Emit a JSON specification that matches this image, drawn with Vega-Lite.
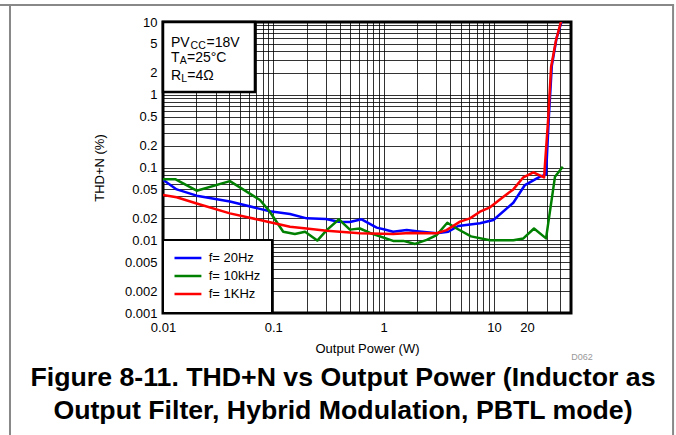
{
  "$schema": "https://vega.github.io/schema/vega-lite/v6.json",
  "width": 408,
  "height": 291,
  "autosize": "none",
  "padding": {"left": 163, "top": 22, "right": 105, "bottom": 122},
  "background": "white",
  "title": {
    "text": ["Figure 8-11. THD+N vs Output Power (Inductor as", "Output Filter, Hybrid Modulation, PBTL mode)"],
    "orient": "bottom", "anchor": "middle", "fontSize": 26.7, "fontWeight": "bold",
    "lineHeight": 33, "offset": -72, "color": "#000", "font": "Liberation Sans", "dx": -24
  },
  "config": {
    "font": "Liberation Sans",
    "view": {"stroke": "#000", "strokeWidth": 3},
    "axis": {
      "grid": true, "gridColor": "#000", "gridOpacity": 0.8, "gridWidth": 1,
      "domain": false, "ticks": false, "tickSize": 0,
      "labelFontSize": 13, "labelColor": "#000", "labelFont": "Liberation Sans",
      "titleFontSize": 13, "titleFontWeight": "normal", "titleColor": "#000", "titleFont": "Liberation Sans",
      "labelFlush": false, "labelOverlap": false, "labelBound": false
    },
    "legend": {
      "orient": "bottom-left", "offset": 0, "fillColor": "white", "strokeColor": "#000", "strokeWidth": 2,
      "padding": 11.5, "symbolType": "stroke", "symbolSize": 784, "symbolOffset": -2.6, "clipHeight": 13,
      "labelFontSize": 13, "labelColor": "#000",
      "labelFont": "Liberation Sans", "rowPadding": 4, "labelOffset": 5.8
    }
  },
  "datasets": {
    "curves": [
      {"s": "f= 20Hz", "P": 0.01, "THD": 0.068},
      {"s": "f= 20Hz", "P": 0.0133, "THD": 0.05},
      {"s": "f= 20Hz", "P": 0.0202, "THD": 0.041},
      {"s": "f= 20Hz", "P": 0.0404, "THD": 0.034},
      {"s": "f= 20Hz", "P": 0.0757, "THD": 0.027},
      {"s": "f= 20Hz", "P": 0.093, "THD": 0.025},
      {"s": "f= 20Hz", "P": 0.1416, "THD": 0.023},
      {"s": "f= 20Hz", "P": 0.201, "THD": 0.02},
      {"s": "f= 20Hz", "P": 0.3, "THD": 0.0196},
      {"s": "f= 20Hz", "P": 0.39, "THD": 0.018},
      {"s": "f= 20Hz", "P": 0.495, "THD": 0.0178},
      {"s": "f= 20Hz", "P": 0.632, "THD": 0.0194},
      {"s": "f= 20Hz", "P": 0.865, "THD": 0.0149},
      {"s": "f= 20Hz", "P": 1.0, "THD": 0.0142},
      {"s": "f= 20Hz", "P": 1.22, "THD": 0.0131},
      {"s": "f= 20Hz", "P": 1.62, "THD": 0.0138},
      {"s": "f= 20Hz", "P": 2.0, "THD": 0.0133},
      {"s": "f= 20Hz", "P": 3.03, "THD": 0.0125},
      {"s": "f= 20Hz", "P": 3.86, "THD": 0.0131},
      {"s": "f= 20Hz", "P": 4.75, "THD": 0.0157},
      {"s": "f= 20Hz", "P": 7.48, "THD": 0.0171},
      {"s": "f= 20Hz", "P": 9.9, "THD": 0.019},
      {"s": "f= 20Hz", "P": 15, "THD": 0.0328},
      {"s": "f= 20Hz", "P": 19.1, "THD": 0.0574},
      {"s": "f= 20Hz", "P": 26.2, "THD": 0.0748},
      {"s": "f= 20Hz", "P": 29.7, "THD": 0.08},
      {"s": "f= 20Hz", "P": 31.5, "THD": 0.5},
      {"s": "f= 20Hz", "P": 33.5, "THD": 2.5},
      {"s": "f= 20Hz", "P": 37, "THD": 6},
      {"s": "f= 20Hz", "P": 41, "THD": 10},
      {"s": "f= 10kHz", "P": 0.01, "THD": 0.069},
      {"s": "f= 10kHz", "P": 0.0129, "THD": 0.069},
      {"s": "f= 10kHz", "P": 0.0202, "THD": 0.048},
      {"s": "f= 10kHz", "P": 0.0404, "THD": 0.065},
      {"s": "f= 10kHz", "P": 0.0757, "THD": 0.0357},
      {"s": "f= 10kHz", "P": 0.093, "THD": 0.0247},
      {"s": "f= 10kHz", "P": 0.123, "THD": 0.0131},
      {"s": "f= 10kHz", "P": 0.157, "THD": 0.0122},
      {"s": "f= 10kHz", "P": 0.194, "THD": 0.0131},
      {"s": "f= 10kHz", "P": 0.2505, "THD": 0.0099},
      {"s": "f= 10kHz", "P": 0.305, "THD": 0.0138},
      {"s": "f= 10kHz", "P": 0.394, "THD": 0.0194},
      {"s": "f= 10kHz", "P": 0.495, "THD": 0.014},
      {"s": "f= 10kHz", "P": 0.61, "THD": 0.0145},
      {"s": "f= 10kHz", "P": 0.754, "THD": 0.0126},
      {"s": "f= 10kHz", "P": 1.22, "THD": 0.0098},
      {"s": "f= 10kHz", "P": 1.51, "THD": 0.0098},
      {"s": "f= 10kHz", "P": 1.93, "THD": 0.0089},
      {"s": "f= 10kHz", "P": 2.46, "THD": 0.0101},
      {"s": "f= 10kHz", "P": 3.03, "THD": 0.0118},
      {"s": "f= 10kHz", "P": 3.78, "THD": 0.0174},
      {"s": "f= 10kHz", "P": 4.6, "THD": 0.0145},
      {"s": "f= 10kHz", "P": 6.2, "THD": 0.0113},
      {"s": "f= 10kHz", "P": 9.22, "THD": 0.01},
      {"s": "f= 10kHz", "P": 15, "THD": 0.01},
      {"s": "f= 10kHz", "P": 18.5, "THD": 0.0106},
      {"s": "f= 10kHz", "P": 23.1, "THD": 0.0145},
      {"s": "f= 10kHz", "P": 29.7, "THD": 0.0106},
      {"s": "f= 10kHz", "P": 35.8, "THD": 0.0748},
      {"s": "f= 10kHz", "P": 42.1, "THD": 0.1026},
      {"s": "f= 1KHz", "P": 0.01, "THD": 0.042},
      {"s": "f= 1KHz", "P": 0.0133, "THD": 0.039},
      {"s": "f= 1KHz", "P": 0.0202, "THD": 0.032},
      {"s": "f= 1KHz", "P": 0.0404, "THD": 0.0234},
      {"s": "f= 1KHz", "P": 0.0757, "THD": 0.019},
      {"s": "f= 1KHz", "P": 0.1416, "THD": 0.0153},
      {"s": "f= 1KHz", "P": 0.2, "THD": 0.0145},
      {"s": "f= 1KHz", "P": 0.305, "THD": 0.0135},
      {"s": "f= 1KHz", "P": 0.61, "THD": 0.0125},
      {"s": "f= 1KHz", "P": 1.22, "THD": 0.0122},
      {"s": "f= 1KHz", "P": 1.73, "THD": 0.0126},
      {"s": "f= 1KHz", "P": 3.03, "THD": 0.0125},
      {"s": "f= 1KHz", "P": 3.72, "THD": 0.0138},
      {"s": "f= 1KHz", "P": 4.93, "THD": 0.018},
      {"s": "f= 1KHz", "P": 6.07, "THD": 0.02},
      {"s": "f= 1KHz", "P": 7.48, "THD": 0.0247},
      {"s": "f= 1KHz", "P": 9.22, "THD": 0.0284},
      {"s": "f= 1KHz", "P": 12.2, "THD": 0.0397},
      {"s": "f= 1KHz", "P": 15, "THD": 0.05},
      {"s": "f= 1KHz", "P": 18.5, "THD": 0.0733},
      {"s": "f= 1KHz", "P": 22.8, "THD": 0.086},
      {"s": "f= 1KHz", "P": 28.5, "THD": 0.073},
      {"s": "f= 1KHz", "P": 31, "THD": 0.45},
      {"s": "f= 1KHz", "P": 33, "THD": 2.4},
      {"s": "f= 1KHz", "P": 36.6, "THD": 5.66},
      {"s": "f= 1KHz", "P": 40.5, "THD": 10},
      {"s": "f= 1KHz", "P": 42, "THD": 14}
    ]
  },
  "layer": [
    {
      "data": {"values": [{}]},
      "mark": {"type": "rule", "color": "#888", "strokeWidth": 2},
      "encoding": {"x": {"datum": 0.00041}, "y": {"datum": 17.1}, "y2": {"datum": 0.0000204}}
    },
    {
      "data": {"values": [{}]},
      "mark": {"type": "rule", "color": "#888", "strokeWidth": 2},
      "encoding": {"x": {"datum": 421}, "y": {"datum": 17.1}, "y2": {"datum": 0.0000204}}
    },
    {
      "data": {"values": [{}]},
      "mark": {"type": "rule", "color": "#888", "strokeWidth": 2},
      "encoding": {"y": {"datum": 17.1}, "x": {"datum": 0.00033}, "x2": {"datum": 430}}
    },
    {
      "data": {"name": "curves"},
      "mark": {"type": "line", "clip": true, "strokeJoin": "round"},
      "encoding": {
        "x": {
          "field": "P", "type": "quantitative",
          "scale": {"type": "log", "domain": [0.01, 50], "nice": false},
          "axis": {
            "title": "Output Power (W)", "titlePadding": 8, "labelPadding": 8, "format": "~g",
            "values": [0.01,0.02,0.03,0.04,0.05,0.06,0.07,0.08,0.09,0.1,0.2,0.3,0.4,0.5,0.6,0.7,0.8,0.9,1,2,3,4,5,6,7,8,9,10,20,30,40],
            "labelExpr": "indexof(['0.01','0.1','1','10','20'], datum.label) >= 0 ? datum.label : ''"
          }
        },
        "y": {
          "field": "THD", "type": "quantitative",
          "scale": {"type": "log", "domain": [0.001, 10], "nice": false},
          "axis": {
            "title": "THD+N (%)", "titlePadding": 18, "labelPadding": 6, "format": "~g",
            "values": [0.001,0.002,0.003,0.004,0.005,0.006,0.007,0.008,0.009,0.01,0.02,0.03,0.04,0.05,0.06,0.07,0.08,0.09,0.1,0.2,0.3,0.4,0.5,0.6,0.7,0.8,0.9,1,2,3,4,5,6,7,8,9,10],
            "labelExpr": "indexof(['10','5','2','1','0.5','0.2','0.1','0.05','0.02','0.01','0.005','0.002','0.001'], datum.label) >= 0 ? datum.label : ''"
          }
        },
        "color": {
          "field": "s", "type": "nominal",
          "scale": {"domain": ["f= 20Hz", "f= 10kHz", "f= 1KHz"], "range": ["#0000ff", "#008000", "#ff0000"]},
          "legend": {"title": null}
        },
        "strokeWidth": {
          "field": "s", "type": "nominal",
          "scale": {"domain": ["f= 20Hz", "f= 10kHz", "f= 1KHz"], "range": [2.5, 2.5, 4]},
          "legend": {"title": null}
        }
      }
    },
    {
      "data": {"values": [{}]},
      "mark": {"type": "rect", "fill": "white", "stroke": "#000", "strokeWidth": 2.5},
      "encoding": {"x": {"datum": 0.01}, "x2": {"datum": 0.0682}, "y": {"datum": 10}, "y2": {"datum": 1.09}}
    },
    {
      "data": {"values": [{}]},
      "mark": {"type": "text", "text": "PV", "align": "left", "baseline": "alphabetic", "fontSize": 14, "color": "#000"},
      "encoding": {"x": {"datum": 0.01182}, "y": {"datum": 4.57}}
    },
    {
      "data": {"values": [{}]},
      "mark": {"type": "text", "text": "CC", "align": "left", "baseline": "alphabetic", "fontSize": 10.5, "dx": 19.6, "dy": 2.5, "color": "#000"},
      "encoding": {"x": {"datum": 0.01182}, "y": {"datum": 4.57}}
    },
    {
      "data": {"values": [{}]},
      "mark": {"type": "text", "text": "=18V", "align": "left", "baseline": "alphabetic", "fontSize": 14, "dx": 35.6, "color": "#000"},
      "encoding": {"x": {"datum": 0.01182}, "y": {"datum": 4.57}}
    },
    {
      "data": {"values": [{}]},
      "mark": {"type": "text", "text": "T", "align": "left", "baseline": "alphabetic", "fontSize": 14, "color": "#000"},
      "encoding": {"x": {"datum": 0.01182}, "y": {"datum": 2.846}}
    },
    {
      "data": {"values": [{}]},
      "mark": {"type": "text", "text": "A", "align": "left", "baseline": "alphabetic", "fontSize": 10.5, "dx": 8.7, "dy": 2.5, "color": "#000"},
      "encoding": {"x": {"datum": 0.01182}, "y": {"datum": 2.846}}
    },
    {
      "data": {"values": [{}]},
      "mark": {"type": "text", "text": "=25°C", "align": "left", "baseline": "alphabetic", "fontSize": 14, "dx": 16, "color": "#000"},
      "encoding": {"x": {"datum": 0.01182}, "y": {"datum": 2.846}}
    },
    {
      "data": {"values": [{}]},
      "mark": {"type": "text", "text": "R", "align": "left", "baseline": "alphabetic", "fontSize": 14, "color": "#000"},
      "encoding": {"x": {"datum": 0.01182}, "y": {"datum": 1.595}}
    },
    {
      "data": {"values": [{}]},
      "mark": {"type": "text", "text": "L", "align": "left", "baseline": "alphabetic", "fontSize": 10.5, "dx": 10.2, "dy": 2.5, "color": "#000"},
      "encoding": {"x": {"datum": 0.01182}, "y": {"datum": 1.595}}
    },
    {
      "data": {"values": [{}]},
      "mark": {"type": "text", "text": "=4Ω", "align": "left", "baseline": "alphabetic", "fontSize": 14, "dx": 16.3, "color": "#000"},
      "encoding": {"x": {"datum": 0.01182}, "y": {"datum": 1.595}}
    },
    {
      "data": {"values": [{}]},
      "mark": {"type": "text", "text": "D062", "align": "center", "baseline": "middle", "fontSize": 9, "color": "#999"},
      "encoding": {"x": {"datum": 62.9}, "y": {"datum": 0.000248}}
    }
  ]
}
